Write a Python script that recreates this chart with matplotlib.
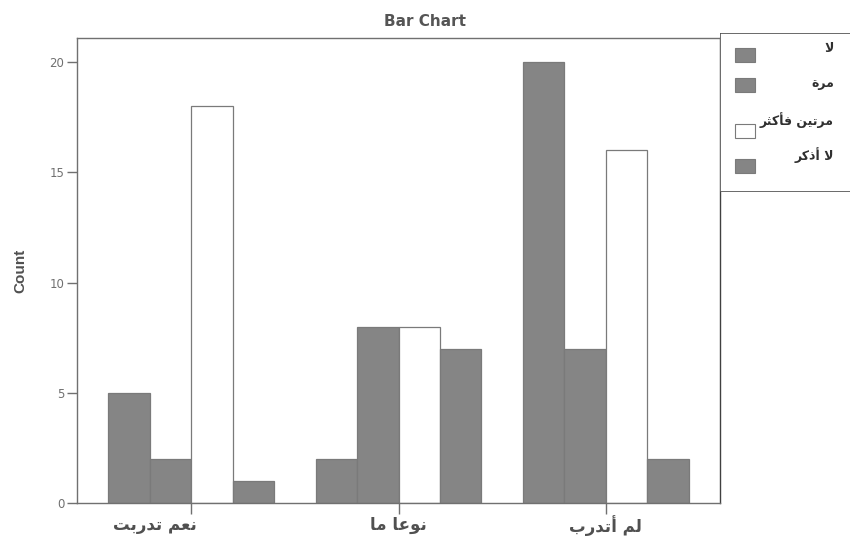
import numpy as np
import matplotlib.pyplot as plt
from matplotlib.patches import Rectangle
from matplotlib.transforms import ScaledTranslation

categories = ["نعم تدربت", "نوعا ما", "لم أتدرب"]
series = ["لا", "مرة", "مرتين فأكثر", "لا أذكر"]
counts = [
    [5, 2, 20],    # لا
    [2, 8, 7],     # مرة
    [18, 8, 16],   # مرتين فأكثر
    [1, 7, 2],     # لا أذكر
]
yticks = [0, 5, 10, 15, 20]

# presentation forms: isolated, final, initial, medial
FORMS = {
    'ا': (0xFE8D, 0xFE8E, None, None),
    'أ': (0xFE83, 0xFE84, None, None),
    'ب': (0xFE8F, 0xFE90, 0xFE91, 0xFE92),
    'ة': (0xFE93, 0xFE94, None, None),
    'ت': (0xFE95, 0xFE96, 0xFE97, 0xFE98),
    'ث': (0xFE99, 0xFE9A, 0xFE9B, 0xFE9C),
    'د': (0xFEA9, 0xFEAA, None, None),
    'ذ': (0xFEAB, 0xFEAC, None, None),
    'ر': (0xFEAD, 0xFEAE, None, None),
    'ع': (0xFEC9, 0xFECA, 0xFECB, 0xFECC),
    'ف': (0xFED1, 0xFED2, 0xFED3, 0xFED4),
    'ك': (0xFED9, 0xFEDA, 0xFEDB, 0xFEDC),
    'ل': (0xFEDD, 0xFEDE, 0xFEDF, 0xFEE0),
    'م': (0xFEE1, 0xFEE2, 0xFEE3, 0xFEE4),
    'ن': (0xFEE5, 0xFEE6, 0xFEE7, 0xFEE8),
    'و': (0xFEED, 0xFEEE, None, None),
    'ي': (0xFEF1, 0xFEF2, 0xFEF3, 0xFEF4),
    'لا': (0xFEFB, 0xFEFC, None, None),
    'لأ': (0xFEF7, 0xFEF8, None, None),
}


def shape(s):
    # split into units, merging lam-alef
    units = []
    i = 0
    while i < len(s):
        if s[i] == 'ل' and i + 1 < len(s) and s[i + 1] in 'اأ':
            units.append(s[i:i + 2])
            i += 2
        else:
            units.append(s[i])
            i += 1
    out = []
    for k, u in enumerate(units):
        if u not in FORMS:
            out.append(u)
            continue
        f = FORMS[u]
        prev = units[k - 1] if k > 0 else None
        nxt = units[k + 1] if k + 1 < len(units) else None
        jp = prev in FORMS and FORMS[prev][2] is not None
        jn = f[2] is not None and nxt in FORMS
        if jp and jn:
            c = f[3]
        elif jp:
            c = f[1]
        elif jn:
            c = f[2]
        else:
            c = f[0]
        out.append(chr(c))
    return ''.join(out)[::-1]


plt.rcParams['font.family'] = ['DejaVu Sans']

fig = plt.figure(figsize=(8.5, 5.47), dpi=100)
ax = fig.add_axes([77 / 850, 1 - 503 / 547, 643 / 850, 465 / 547])

grey = '#858585'
fills = [grey, grey, 'white', grey]
x = np.arange(len(categories))
w = 0.2
for i, vals in enumerate(counts):
    ax.bar(x + (i - 1.5) * w, vals, w, color=fills[i], edgecolor='#7a7a7a',
           linewidth=0.9)

ax.set_xlim(-0.55, 2.55)
ax.set_ylim(0, 21.1)
ax.set_yticks(yticks)
ax.set_yticklabels([str(v) for v in yticks], color='#707070', fontsize=8.5)
ax.set_xticks(x)
ax.set_xticklabels([shape(c) for c in categories], fontsize=12,
                   fontweight='bold', color='#505050')
ax.tick_params(axis='y', length=7, width=1, color='#707070', pad=2)
ax.tick_params(axis='x', length=8, width=1, color='#707070', pad=1)
# first category label sits left of its tick in the original
lbl = ax.xaxis.get_major_ticks()[0].label1
lbl.set_transform(lbl.get_transform() +
                  ScaledTranslation(-0.36, 0, fig.dpi_scale_trans))
for s in ax.spines.values():
    s.set_color('#707070')
    s.set_linewidth(1)
ax.spines['right'].set_color('#404040')

ax.set_ylabel('Count', fontsize=11, fontweight='bold', color='#505050',
              family='Liberation Sans', labelpad=16)
fig.text(0.5, 1 - 22 / 547, 'Bar Chart', ha='center', va='center',
         fontsize=11, fontweight='bold', color='#555555')

# legend panel
lax = fig.add_axes([720 / 850, 1 - 192 / 547, 0.2, 159 / 547])
lax.set_xlim(0, 170)
lax.set_ylim(159, 0)
lax.axis('off')
lax.add_patch(Rectangle((0, 0), 170, 159, facecolor='white',
                        edgecolor='#505050', linewidth=1.2))
marker_y = [22, 52, 98, 133]
text_y = [15, 50, 87, 122]
for i, name in enumerate(series):
    lax.add_patch(Rectangle((15, marker_y[i] - 7), 20, 14,
                            facecolor=fills[i], edgecolor='#7a7a7a',
                            linewidth=0.8))
    lax.text(114, text_y[i], shape(name), ha='right', va='center',
             fontsize=9, fontweight='bold', color='#303030')

fig.savefig('out.png', dpi=100)
